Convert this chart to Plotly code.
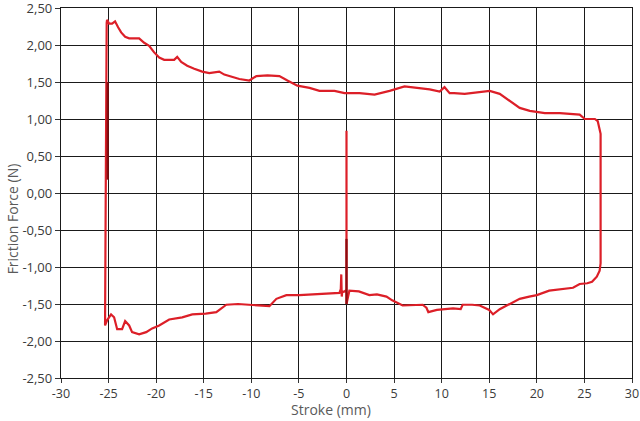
import plotly.graph_objects as go

# friction loop (stroke in mm, force in N)
# order: start spike at 0, bottom to the right, right edge up, top to the left,
# left edge down, bottom back to 0
stroke = [0.0, 0.0, 0.0, 0.3, 1.3, 2.4, 3.2, 4.2, 4.8, 5.9, 7.0, 8.0, 8.4, 8.6, 9.5,
          10.5, 11.2, 12.0, 12.2, 13.2, 14.0, 15.0, 15.4, 16.1, 17.2, 18.2, 19.2,
          20.0, 21.3, 22.0, 23.0, 23.8, 24.5, 25.3, 25.8, 26.3, 26.6,
          26.7, 26.7, 26.4, 26.1, 25.05, 24.5, 23.4, 22.42, 20.84, 19.26, 18.2,
          17.16, 16.1, 15.05, 14.3, 13.47, 12.42, 11.3, 10.84, 10.3, 9.79, 8.74,
          7.16, 6.1, 4.53, 2.95, 1.37, -0.21, -1.26, -2.84, -3.89, -5.16, -6.21,
          -7.05, -8.3, -9.47, -10.21, -11.26, -12.84, -13.37, -14.42, -15.16,
          -16.0, -16.74, -17.37, -17.79, -18.11, -19.16, -19.68, -20.21, -20.74,
          -21.26, -21.79, -22.84, -23.26, -23.68, -24.0, -24.32, -24.63, -24.95,
          -25.16, -25.2, -25.3, -25.37, -25.16, -24.74, -24.42, -24.1, -23.58,
          -23.26, -22.84, -22.53, -21.79, -21.05, -20.42, -19.68, -18.63, -17.26,
          -16.21, -14.8, -13.68, -12.63, -11.4, -10.21, -9.0, -8.1, -7.37, -6.32,
          -4.95, -3.5, -2.84, -1.8, -0.74, -0.6, -0.55, -0.5, -0.45, -0.2, 0.0]
force = [-1.45, 0.84, -1.5, -1.32, -1.33, -1.38, -1.37, -1.40, -1.45, -1.52,
         -1.52, -1.51, -1.55, -1.61, -1.58, -1.57, -1.56, -1.57, -1.51, -1.51,
         -1.52, -1.58, -1.64, -1.57, -1.50, -1.43, -1.40, -1.38, -1.32, -1.31,
         -1.30, -1.28, -1.23, -1.22, -1.20, -1.13, -1.05,
         -0.95, 0.80, 0.97, 1.0, 1.0, 1.06, 1.07, 1.08, 1.08, 1.11, 1.15,
         1.24, 1.34, 1.38, 1.37, 1.36, 1.34, 1.35, 1.35, 1.43, 1.37, 1.40,
         1.42, 1.44, 1.38, 1.33, 1.35, 1.35, 1.38, 1.38, 1.42, 1.45, 1.52,
         1.58, 1.59, 1.58, 1.52, 1.54, 1.60, 1.64, 1.62, 1.64, 1.68, 1.72,
         1.77, 1.84, 1.80, 1.80, 1.83, 1.90, 1.99, 2.03, 2.09, 2.09, 2.11,
         2.17, 2.24, 2.32, 2.29, 2.29, 2.34, 2.30, 0.0, -1.79, -1.72, -1.64,
         -1.68, -1.84, -1.84, -1.73, -1.79, -1.88, -1.91, -1.88, -1.83, -1.79,
         -1.71, -1.68, -1.64, -1.63, -1.61, -1.51, -1.50, -1.51, -1.52, -1.53,
         -1.43, -1.38, -1.38, -1.37, -1.36, -1.35, -1.35, -1.30, -1.10, -1.40,
         -1.34, -1.33, -1.31]

# overlapping (darker) retrace segments
dark_stroke = [-25.1, -25.1, None, 0.0, 0.0]
dark_force = [1.50, 0.18, None, -0.62, -1.50]

x_ticks = [-30, -25, -20, -15, -10, -5, 0, 5, 10, 15, 20, 25, 30]
y_ticks = [-2.5, -2.0, -1.5, -1.0, -0.5, 0.0, 0.5, 1.0, 1.5, 2.0, 2.5]
# labels with plain hyphen and decimal comma, as in the original
x_labels = [str(v) for v in x_ticks]
y_labels = [f"{v:.2f}".replace(".", ",") for v in y_ticks]

fig = go.Figure()
fig.add_trace(go.Scatter(x=stroke, y=force, mode="lines",
                         line=dict(color="#dc1f28", width=2.2)))
fig.add_trace(go.Scatter(x=dark_stroke, y=dark_force, mode="lines",
                         line=dict(color="#8a0c10", width=2.2)))

axis_common = dict(showgrid=True, gridcolor="#1a1a1a", gridwidth=1.3,
                   showline=True, linecolor="#1a1a1a", linewidth=1.3, mirror=True,
                   zeroline=False, ticks="outside", tickcolor="#333",
                   ticklabeloverflow="allow", automargin=False)

fig.update_xaxes(range=[-30, 30], tickvals=x_ticks, ticktext=x_labels, ticklen=4,
                 tickfont=dict(family="Open Sans", size=12.5, color="#3a3a3a"),
                 **axis_common)
fig.update_yaxes(range=[-2.5, 2.5], tickvals=y_ticks, ticktext=y_labels, ticklen=5,
                 tickfont=dict(family="Open Sans", size=13, color="#3a3a3a"),
                 **axis_common)

title_font = dict(family="Open Sans", size=14, color="#5a5a5a")
fig.add_annotation(text="Stroke (mm)", xref="paper", yref="paper",
                   x=0.473, y=-0.117, yanchor="bottom", showarrow=False,
                   font=title_font)
fig.add_annotation(text="Friction Force (N)", xref="paper", yref="paper",
                   x=-0.085, y=0.43, xanchor="center", textangle=-90,
                   showarrow=False, font=title_font)

fig.update_layout(width=640, height=421, showlegend=False,
                  plot_bgcolor="white", paper_bgcolor="white",
                  margin=dict(l=61, r=8, t=8, b=43))

fig.write_html("out.html", config={"displayModeBar": False},
               post_script="document.body.style.margin='0';")
